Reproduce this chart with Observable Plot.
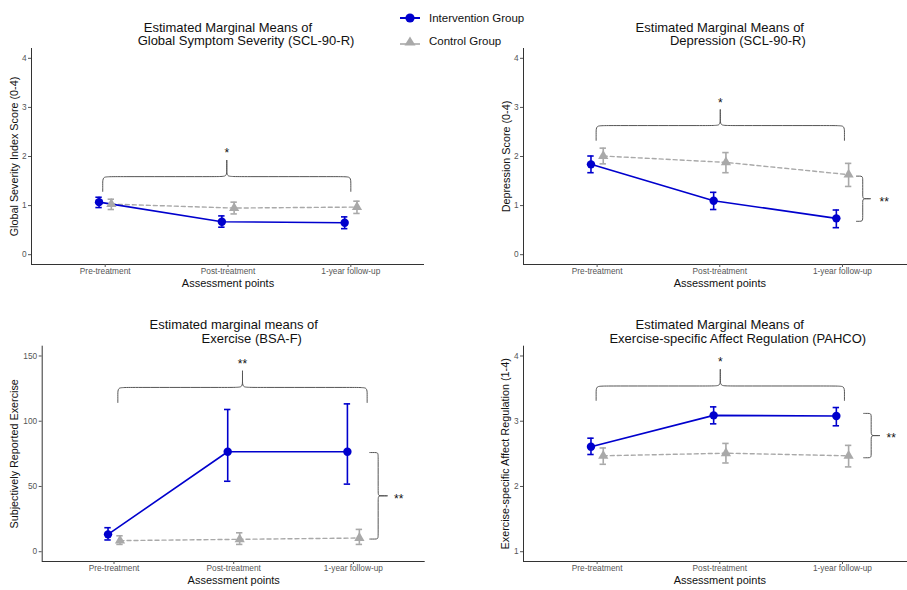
<!DOCTYPE html>
<html><head><meta charset="utf-8">
<script src="https://cdn.jsdelivr.net/npm/d3@7"></script>
<script src="https://cdn.jsdelivr.net/npm/@observablehq/plot@0.6"></script>
<style>
body{margin:0;background:#fff;font-family:"Liberation Sans",Arial,sans-serif;}
#root{position:relative;width:907px;height:590px;overflow:hidden;background:#fff;}
.panel{position:absolute;}
.panel svg{max-width:none;background:transparent;}
#legend{position:absolute;left:395px;top:4px;}
</style></head><body><div id="root"></div>
<script>
// ---------- data ----------
const timepoints = ["Pre-treatment", "Post-treatment", "1-year follow-up"];
const groupNames = ["Intervention Group", "Control Group"];

// Global Symptom Severity (SCL-90-R), GSI score 0-4
const gsiInt   = [1.07, 0.67, 0.65];
const gsiIntLo = [0.96, 0.56, 0.53];
const gsiIntHi = [1.17, 0.79, 0.77];
const gsiCtl   = [1.03, 0.95, 0.97];
const gsiCtlLo = [0.92, 0.83, 0.84];
const gsiCtlHi = [1.13, 1.07, 1.09];

// Depression (SCL-90-R), 0-4
const depInt   = [1.84, 1.10, 0.74];
const depIntLo = [1.67, 0.92, 0.55];
const depIntHi = [2.01, 1.27, 0.91];
const depCtl   = [2.01, 1.88, 1.63];
const depCtlLo = [1.85, 1.67, 1.39];
const depCtlHi = [2.17, 2.08, 1.86];

// Exercise (BSA-F)
const exInt   = [13.3, 76.6, 76.6];
const exIntLo = [9.0, 54.0, 51.8];
const exIntHi = [18.4, 109.0, 113.3];
const exCtl   = [8.5, 9.5, 10.5];
const exCtlLo = [5.6, 5.6, 5.6];
const exCtlHi = [12.2, 14.5, 17.1];

// Exercise-specific Affect Regulation (PAHCO), 1-4
const paInt   = [2.61, 3.09, 3.08];
const paIntLo = [2.49, 2.96, 2.93];
const paIntHi = [2.74, 3.22, 3.21];
const paCtl   = [2.47, 2.51, 2.47];
const paCtlLo = [2.34, 2.36, 2.30];
const paCtlHi = [2.59, 2.66, 2.63];

const ticks04 = [0, 1, 2, 3, 4];
const ticksEx = [0, 50, 100, 150];
const ticks14 = [1, 2, 3, 4];
const sig1 = "*", sig2 = "**";

// ---------- styling ----------
const BLUE = "#0000CD", GRAY = "#A9A9A9", BRACE = "#555";
const DODGE = 0.05;
const FONT = '"Liberation Sans", Arial, sans-serif';

const panels = [
  {left:0, top:0, width:454, height:290, mL:31, mR:30, mT:48, mB:26,
   xDomain:[0.4,3.6], yDomain:[-0.2,4.2], yTicks:ticks04,
   title:["Estimated Marginal Means of","Global Symptom Severity (SCL-90-R)"],
   yLabel:"Global Severity Index Score (0-4)", yLabelDx:-17,
   int:gsiInt, intLo:gsiIntLo, intHi:gsiIntHi, ctl:gsiCtl, ctlLo:gsiCtlLo, ctlHi:gsiCtlHi,
   topBrace:{x1:0.98, x2:3.0, yb:1.59, ye:1.29, yt:1.92, label:sig1, ly:2.12},
   sideBrace:null},
  {left:454, top:0, width:453, height:290, mL:69, mR:0, mT:48, mB:26,
   xDomain:[0.4,3.53], yDomain:[-0.2,4.2], yTicks:ticks04,
   title:["Estimated Marginal Means of","Depression (SCL-90-R)"],
   yLabel:"Depression Score (0-4)", yLabelDx:-17,
   int:depInt, intLo:depIntLo, intHi:depIntHi, ctl:depCtl, ctlLo:depCtlLo, ctlHi:depCtlHi,
   topBrace:{x1:0.992, x2:3.016, yb:2.63, ye:2.33, yt:2.95, label:sig1, ly:3.14},
   sideBrace:{xe:3.114, xb:3.165, xt:3.226, y1:1.60, y2:0.68, label:sig2, lx:3.34}},
  {left:0, top:290, width:454, height:300, mL:41.7, mR:29.3, mT:55.7, mB:29,
   xDomain:[0.4,3.6], yDomain:[-7.5,157.5], yTicks:ticksEx,
   title:["Estimated marginal means of","Exercise (BSA-F)"],
   yLabel:"Subjectively Reported Exercise", yLabelDx:-28,
   int:exInt, intLo:exIntLo, intHi:exIntHi, ctl:exCtl, ctlLo:exCtlLo, ctlHi:exCtlHi,
   topBrace:{x1:1.032, x2:3.115, yb:125.9, ye:114.4, yt:138.4, label:sig2, ly:146},
   sideBrace:{xe:3.137, xb:3.207, xt:3.282, y1:76, y2:9.7, label:sig2, lx:3.379}},
  {left:454, top:290, width:453, height:300, mL:69, mR:0, mT:55.7, mB:29,
   xDomain:[0.4,3.53], yDomain:[0.85,4.15], yTicks:ticks14,
   title:["Estimated Marginal Means of","Exercise-specific Affect Regulation (PAHCO)"],
   yLabel:"Exercise-specific Affect Regulation (1-4)", yLabelDx:-18,
   int:paInt, intLo:paIntLo, intHi:paIntHi, ctl:paCtl, ctlLo:paCtlLo, ctlHi:paCtlHi,
   topBrace:{x1:0.992, x2:3.016, yb:3.54, ye:3.32, yt:3.79, label:sig1, ly:3.95},
   sideBrace:{xe:3.173, xb:3.234, xt:3.301, y1:3.12, y2:2.44, label:sig2, lx:3.397}}
];

function bracePointsH(b, rx, ry) {
  const xm = (b.x1 + b.x2) / 2;
  const half = (xs, side) => [
    [xs, b.ye], [xs, b.yb - ry], [xs, b.yb], [xs + side * rx, b.yb],
    [xm - side * rx, b.yb], [xm, b.yb], [xm, b.yb + ry], [xm, b.yt]
  ].map(([x, y]) => ({x, y, half: side}));
  return [...half(b.x1, 1), ...half(b.x2, -1)];
}
function bracePointsV(b, rx, ry) {
  const ym = (b.y1 + b.y2) / 2;
  const half = (ys, side) => [
    [b.xe, ys], [b.xb - rx, ys], [b.xb, ys], [b.xb, ys - side * ry],
    [b.xb, ym + side * ry], [b.xb, ym], [b.xb + rx, ym], [b.xt, ym]
  ].map(([x, y]) => ({x, y, half: side}));
  return [...half(b.y1, 1), ...half(b.y2, -1)];
}

function drawPanel(p) {
  const pxX = (p.width - p.mL - p.mR) / (p.xDomain[1] - p.xDomain[0]);
  const pxY = (p.height - p.mT - p.mB) / (p.yDomain[1] - p.yDomain[0]);
  const rows = (vals, lo, hi, off) => timepoints.map((t, i) => ({x: i + 1 + off, v: vals[i], lo: lo[i], hi: hi[i]}));
  const iRows = rows(p.int, p.intLo, p.intHi, -DODGE);
  const cRows = rows(p.ctl, p.ctlLo, p.ctlHi, DODGE);
  const cap = 3.2 / pxX;
  const bracePts = bracePointsH(p.topBrace, 7 / pxX, 7 / pxY);
  const sigTexts = [{x: (p.topBrace.x1 + p.topBrace.x2) / 2, y: p.topBrace.ly, t: p.topBrace.label}];
  let sidePts = [];
  if (p.sideBrace) {
    sidePts = bracePointsV(p.sideBrace, 3.5 / pxX, 4 / pxY);
    sigTexts.push({x: p.sideBrace.lx, y: (p.sideBrace.y1 + p.sideBrace.y2) / 2, t: p.sideBrace.label});
  }
  const errMarks = (data, color) => [
    Plot.ruleX(data, {x: "x", y1: "lo", y2: "hi", stroke: color, strokeWidth: 1.6}),
    Plot.ruleY(data, {y: "hi", x1: d => d.x - cap, x2: d => d.x + cap, stroke: color, strokeWidth: 1.6}),
    Plot.ruleY(data, {y: "lo", x1: d => d.x - cap, x2: d => d.x + cap, stroke: color, strokeWidth: 1.6})
  ];
  const svg = Plot.plot({
    width: p.width, height: p.height,
    marginLeft: p.mL, marginRight: p.mR, marginTop: p.mT, marginBottom: p.mB,
    style: {fontFamily: FONT, background: "transparent", overflow: "visible"},
    x: {domain: p.xDomain, axis: null},
    y: {domain: p.yDomain, axis: null},
    marks: [
      Plot.ruleX([p.xDomain[0]], {stroke: "#333", strokeWidth: 1}),
      Plot.ruleY([p.yDomain[0]], {stroke: "#333", strokeWidth: 1}),
      Plot.axisX({ticks: [1, 2, 3], tickFormat: d => timepoints[d - 1], tickSize: 3, tickPadding: 1, fontSize: 8.3, color: "#555", label: null}),
      Plot.axisY({ticks: p.yTicks, tickFormat: d => String(d), tickSize: 3, tickPadding: 2, fontSize: 8.3, color: "#555", label: null}),
      Plot.text(["Assessment points"], {x: () => 2, frameAnchor: "bottom", dy: 22, text: d => d, fontSize: 11, fill: "#111"}),
      Plot.text([p.yLabel], {frameAnchor: "left", textAnchor: "middle", rotate: -90, dx: p.yLabelDx, text: d => d, fontSize: 10.8, fill: "#111"}),
      Plot.text([p.title[0]], {x: () => 2, frameAnchor: "top", dy: -26, text: d => d, fontSize: 13, fill: "#111"}),
      Plot.text([p.title[1]], {x: () => 2, frameAnchor: "top", dy: -12.5, dx: 18, text: d => d, fontSize: 13, fill: "#111"}),
      Plot.line(bracePts, {x: "x", y: "y", z: "half", curve: "basis", stroke: BRACE, strokeWidth: 1}),
      Plot.line(sidePts, {x: "x", y: "y", z: "half", curve: "basis", stroke: BRACE, strokeWidth: 1}),
      Plot.text(sigTexts, {x: "x", y: "y", text: "t", dy: 3, fontSize: 12, fill: "#111"}),
      Plot.line(cRows, {x: "x", y: "v", stroke: GRAY, strokeWidth: 1.4, strokeDasharray: "4,3"}),
      Plot.line(iRows, {x: "x", y: "v", stroke: BLUE, strokeWidth: 1.6}),
      ...errMarks(cRows, GRAY),
      ...errMarks(iRows, BLUE),
      Plot.dot(cRows, {x: "x", y: "v", symbol: "triangle", r: 3.8, fill: GRAY, stroke: "none"}),
      Plot.dot(iRows, {x: "x", y: "v", symbol: "circle", r: 4.2, fill: BLUE, stroke: "none"})
    ]
  });
  const div = document.createElement("div");
  div.className = "panel";
  div.style.left = p.left + "px";
  div.style.top = p.top + "px";
  div.style.width = p.width + "px";
  div.style.height = p.height + "px";
  div.appendChild(svg);
  return div;
}

const root = document.getElementById("root");
panels.forEach(p => root.appendChild(drawPanel(p)));

// legend
const legend = document.createElement("div");
legend.id = "legend";
legend.innerHTML = `<svg width="150" height="50" style="font-family:${FONT.replace(/"/g, "'")}">
  <line x1="5" x2="25" y1="14" y2="14" stroke="${BLUE}" stroke-width="2"/>
  <circle cx="15" cy="14" r="4.6" fill="${BLUE}"/>
  <text x="34" y="14" dy="0.35em" font-size="11.5" fill="#111">${groupNames[0]}</text>
  <line x1="5" x2="25" y1="40" y2="40" stroke="${GRAY}" stroke-width="1.6"/>
  <path d="M15,32.5 L20.5,41.5 L9.5,41.5 Z" fill="${GRAY}"/>
  <text x="34" y="37" dy="0.35em" font-size="11.5" fill="#111">${groupNames[1]}</text>
</svg>`;
root.appendChild(legend);
</script></body></html>
